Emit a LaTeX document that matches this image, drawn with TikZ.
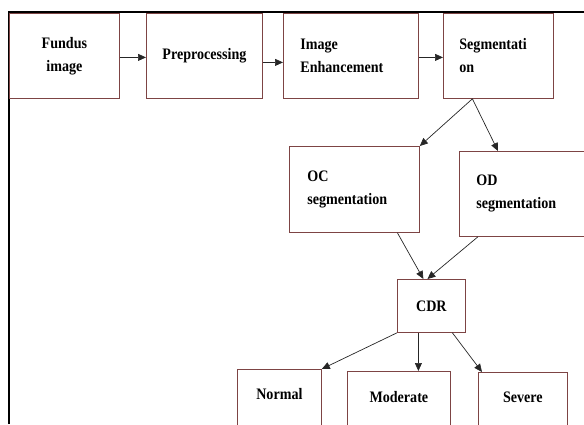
\documentclass[tikz,border=0pt]{standalone}
\usepackage{fontspec}
\setmainfont[FakeStretch=0.88]{Liberation Serif}
\usetikzlibrary{arrows.meta}
\definecolor{boxred}{RGB}{125,68,68}
\begin{document}
\begin{tikzpicture}[x=1pt,y=-1pt,
        blk/.style={draw=boxred, line width=0.8pt, inner sep=0pt, anchor=north west,
            font=\bfseries\fontsize{16}{23}\selectfont},
        arr/.style={line width=0.7pt, draw=black!85, -{Triangle[length=8pt,width=7pt]}}]
        \useasboundingbox (0,0) rectangle (584,424);
        \clip (0,0) rectangle (584,424);
        \draw [line width=2pt] (9,424) -- (9,12) -- (584,12);

        % first row
        \node [blk, minimum width=110pt, minimum height=85pt, align=center] (fundus) at (9,13) {Fundus\\image};
        \node [blk, minimum width=116pt, minimum height=85pt] (prep) at (146,13) {Preprocessing};
        \node [blk, minimum height=85pt, inner xsep=17pt, text width=101pt, align=left] (enh) at (283,13) {Image\\Enhancement};
        \node [blk, minimum height=85pt, inner xsep=16pt, text width=78pt, align=left] (seg) at (443,13) {Segmentati\\on};

        \node [blk, minimum height=86pt, inner xsep=18pt, text width=94pt, align=left] (oc) at (289,146) {OC\\segmentation};
        \node [blk, minimum height=85pt, inner xsep=17pt, text width=99pt, align=left] (od) at (459,151) {OD\\segmentation};

        \node [blk, minimum width=68pt, minimum height=53pt] (cdr) at (397,279) {CDR};

        \node [blk, minimum width=84pt, text height=30pt, text depth=40pt] (normal) at (237,369) {Normal};
        \node [blk, minimum width=103pt, text height=31pt, text depth=40pt] (mod) at (347,371) {Moderate};
        \node [blk, minimum width=89pt, text height=30pt, text depth=40pt] (sev) at (478,372) {Severe};

        \draw [arr] ([yshift=-1.5pt]fundus.east) -- ([yshift=-1.5pt]prep.west);
        \draw [arr] ([yshift=-6.5pt]prep.east) -- ([yshift=-6.5pt]enh.west);
        \draw [arr] ([yshift=-1.5pt]enh.east) -- ([yshift=-1.5pt]seg.west);

        \draw [arr] ([xshift=-26pt]seg.south) -- (oc.north east);
        \draw [arr] ([xshift=-26pt]seg.south) -- ([xshift=39pt]od.north west);

        \draw [arr] ([xshift=43pt]oc.south) -- ([xshift=-8pt]cdr.north);
        \draw [arr] ([xshift=-48pt]od.south) -- ([xshift=-4pt]cdr.north);

        \draw [arr] (cdr.south west) -- (normal.north east);
        \draw [arr] ([xshift=-13pt]cdr.south) -- ([xshift=19.5pt]mod.north);
        \draw [arr] ([xshift=21pt]cdr.south) -- ([xshift=4pt]sev.north west);
        % \draw [arr] (cdr.south) -- (mod.north);
    \end{tikzpicture}
\end{document}
